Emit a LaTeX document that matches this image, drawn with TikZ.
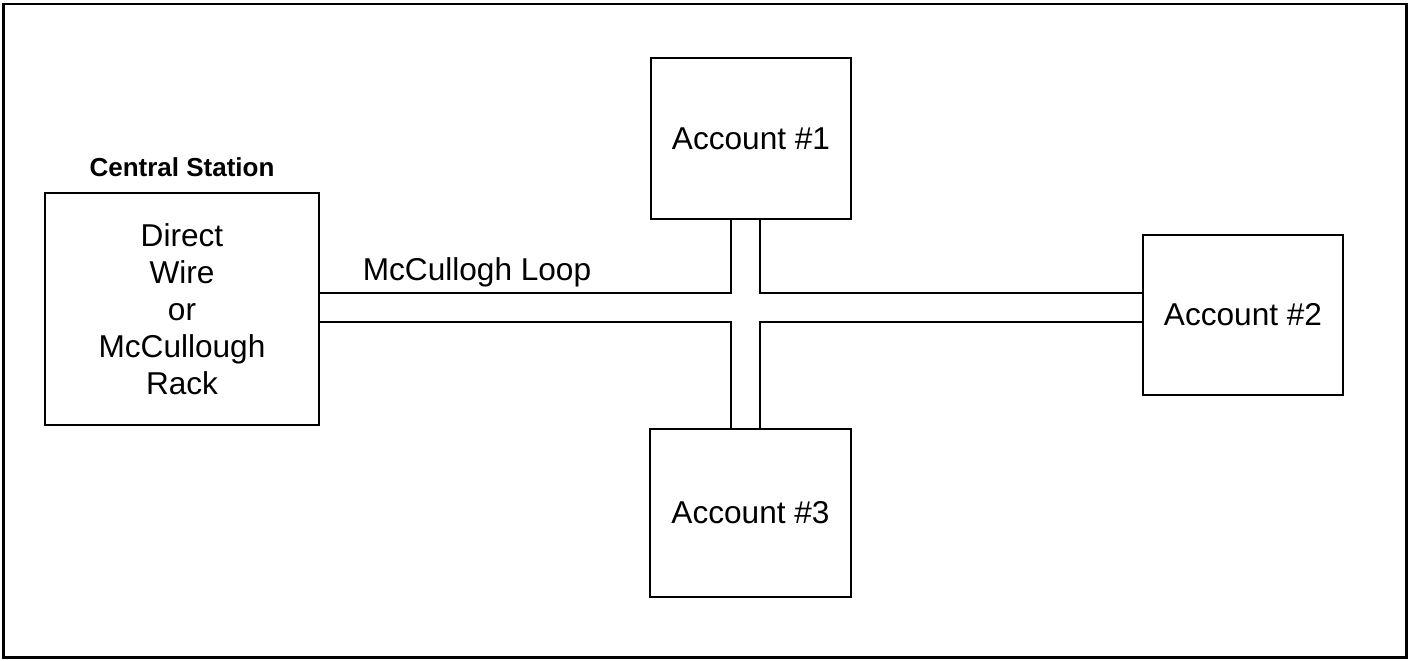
\documentclass[tikz,border=0pt]{standalone}
\usepackage{fontspec}
\setmainfont{Liberation Sans}
\usepackage{tikz}
\usetikzlibrary{positioning}
\usetikzlibrary{calc}

\tikzset{
  acctbox/.style={draw, line width=0.75pt, inner sep=0pt, align=center,
    font=\fontsize{15.8}{18.5}\selectfont},
  wire/.style={line width=0.75pt},
}

\begin{document}
\begin{tikzpicture}[x=0.5pt, y=-0.5pt, node distance=6pt]
\useasboundingbox (0,0) rectangle (1409,660);
\draw[line width=1.3pt] (3.5,4) rectangle (1406.5,657.5);

\node[acctbox, minimum width=137pt, minimum height=116pt] (cs) at (182,309)
  {Direct\\Wire\\or\\McCullough\\Rack};
\node[font=\bfseries\fontsize{13}{15}\selectfont, above=4pt of cs] (cslabel) {Central Station};

\node[acctbox, minimum width=100pt, minimum height=80.5pt] (acc1) at (751,138.5) {Account \#1};
\node[acctbox, minimum width=100pt, minimum height=80pt] (acc2) at (1243,315) {Account \#2};
\node[acctbox, minimum width=100.5pt, minimum height=84pt] (acc3) at (750.5,513) {Account \#3};

% corners of the loop
\coordinate (ul) at (731,293);
\coordinate (ur) at (760,293);
\coordinate (ll) at (731,322);
\coordinate (lr) at (760,322);

\draw[wire] (cs.east |- ul) -- (ul) -- (ul |- acc1.south);
\draw[wire] (ur |- acc1.south) -- (ur) -- (acc2.west |- ur);
\draw[wire] (cs.east |- ll) -- (ll) -- (ll |- acc3.north);
\draw[wire] (lr |- acc3.north) -- (lr) -- (acc2.west |- lr);
\draw[wire] (ll |- acc3.north) -- (lr |- acc3.north);

\node[font=\fontsize{15.8}{18.5}\selectfont, anchor=base] (loop) at (477,280) {McCullogh Loop};
\end{tikzpicture}
\end{document}
